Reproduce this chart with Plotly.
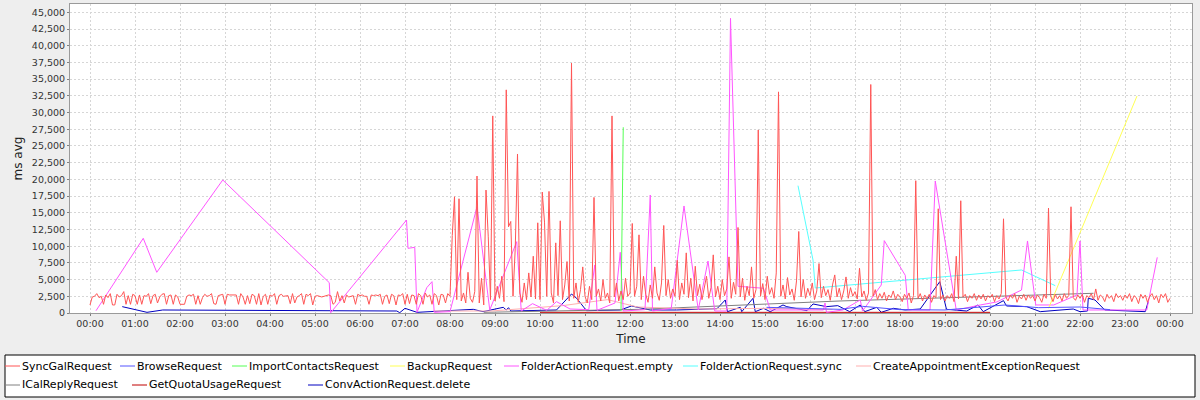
import pandas as pd
import plotly.graph_objects as go

DAY = "2024-01-01"

# ---------------- data ----------------
series_names = [
    "SyncGalRequest", "BrowseRequest", "ImportContactsRequest", "BackupRequest",
    "FolderActionRequest.empty", "FolderActionRequest.sync",
    "CreateAppointmentExceptionRequest", "ICalReplyRequest",
    "GetQuotaUsageRequest", "ConvActionRequest.delete",
]
series_colors = [
    "#FF5555", "#5555FF", "#55FF55", "#FFFF55", "#FF55FF", "#55FFFF",
    "#FFAFAF", "#808080", "#C00000", "#0000C0",
]

# SyncGalRequest: one value every 3 minutes, 00:00 .. 24:00 (20 values per hour)
sync_gal_ms = [
    # 00
    1200, 2400, 2500, 2900, 2300, 2500, 1300, 2700, 2300, 2900, 1200, 1200, 2800, 2400, 2600, 3200, 1300, 2600, 1300, 2800,
    # 01
    2600, 1300, 2700, 1300, 2600, 2500, 2900, 1400, 2600, 2800, 1500, 2400, 2800, 2900, 1300, 2600, 2700, 1300, 2700, 2400,
    # 02
    1300, 1300, 1300, 2500, 2700, 2600, 2800, 1300, 2600, 1300, 2300, 2800, 2500, 2600, 2900, 1400, 1300, 2600, 2700, 2800,
    # 03
    1300, 2800, 2700, 2700, 2800, 2700, 1300, 2900, 2400, 1300, 2600, 1400, 2800, 2600, 1300, 2900, 1200, 2500, 2800, 1300,
    # 04
    2700, 2500, 2900, 1300, 2600, 2800, 2500, 2500, 2600, 1400, 2900, 1500, 2400, 2600, 2900, 1300, 2800, 2600, 2900, 1200,
    # 05
    2500, 2600, 2500, 2400, 2500, 2600, 2700, 2600, 1300, 1600, 3200, 1800, 2600, 1500, 2700, 2400, 2500, 2600, 1300, 2800,
    # 06
    2600, 2700, 2500, 2500, 1300, 2700, 2600, 2700, 2600, 2800, 1300, 2500, 2700, 1400, 2800, 2600, 1200, 2700, 2600, 2900,
    # 07
    1300, 2800, 1400, 2700, 2600, 1300, 2900, 2600, 1300, 3000, 2400, 2700, 1300, 2900, 2600, 1200, 2800, 2700, 1500, 2900,
    # 08
    2500, 11600, 17400, 2000, 17100, 1800, 3000, 1500, 6100, 2200, 1600, 3200, 20500, 1500, 5200, 1200, 18400, 11400, 2000, 29500,
    # 09
    1800, 4000, 2200, 5500, 1700, 33400, 12900, 13700, 2500, 9700, 23800, 3000, 1600, 4500, 2000, 6000, 2400, 8500, 2100, 13500,
    # 10
    2000, 18100, 13600, 2500, 18200, 3000, 1500, 10500, 2600, 13800, 2000, 4200, 7700, 1800, 37400, 2200, 4500, 1600, 3500, 6900,
    # 11
    2500, 1500, 4000, 2000, 17300, 2500, 3600, 1800, 5000, 2200, 3000, 1500, 29500, 2400, 4500, 1800, 3300, 2000, 5200, 2500,
    # 12
    3000, 13400, 2500, 4000, 11700, 2000, 5500, 2800, 1600, 4200, 2200, 6900, 3000, 1900, 4500, 13100, 2600, 5000, 2200, 3600,
    # 13
    2500, 7900, 2000, 4500, 2800, 9000, 2300, 5200, 1800, 7000, 2600, 4300, 2000, 3500, 5500, 2200, 3800, 8700, 2400, 4000,
    # 14
    2000, 5000, 2600, 3600, 8400, 2200, 4600, 2800, 12800, 2400, 5200, 1900, 4000, 2600, 6900, 2200, 3500, 27400, 2500, 4400,
    # 15
    2000, 5500, 2800, 3800, 2200, 6000, 33100, 2500, 4200, 2100, 5300, 2700, 3600, 1900, 4800, 12200, 2400, 5000, 2200, 3700,
    # 16
    2600, 4500, 2000, 3300, 7400, 2300, 4000, 2600, 3500, 1900, 4200, 5700, 2400, 3700, 2000, 3300, 5400, 2200, 3800, 2500,
    # 17
    3200, 2100, 6700, 2400, 3300, 1900, 3000, 34200, 2500, 3500, 2000, 2900, 2200, 3100, 1800, 2700, 2300, 3300, 2000, 2800,
    # 18
    2400, 1700, 2800, 2200, 3000, 1500, 2600, 19800, 2200, 2900, 1800, 2700, 2100, 2800, 1600, 2600, 2300, 15600, 2000, 2700,
    # 19
    1800, 2600, 2200, 2900, 1700, 8500, 2100, 16800, 2400, 2800, 1700, 2600, 2200, 2900, 1900, 2700, 2100, 2800, 1800, 2600,
    # 20
    2300, 2800, 1700, 2600, 2100, 2900, 14100, 2400, 1800, 2700, 2200, 2900, 1600, 2500, 2100, 2800, 1900, 2700, 2200, 2600,
    # 21
    1800, 2700, 2300, 1600, 2800, 2200, 15700, 2500, 1700, 2800, 2100, 2600, 1800, 2900, 2200, 2600, 15900, 2300, 1900, 2700,
    # 22
    2200, 2800, 1600, 2600, 2300, 2900, 2000, 3600, 1900, 2700, 2400, 1700, 2800, 2200, 2600, 1700, 2900, 2300, 2600, 1900,
    # 23
    2700, 2200, 2900, 1700, 2600, 2300, 1400, 2800, 2200, 2700, 1600, 2500, 2900, 2000, 2600, 1500, 2800, 2300, 2900, 1600,
    # 24:00
    2200,
]

browse_times = ["15:02", "16:40", "17:10", "18:00", "19:00", "20:20", "21:05", "22:00", "22:40"]
browse_ms = [850, 550, 1000, 500, 450, 1200, 800, 900, 500]

import_times = ["11:48", "11:51"]
import_ms = [300, 27800]

backup_times = ["21:18", "23:16"]
backup_ms = [700, 32480]

fa_empty_times = [
    "00:08", "01:11", "01:29", "02:57", "05:19", "05:21", "07:02", "07:04", "07:13", "07:16",
    "07:29", "07:36", "07:39", "08:00", "08:36", "08:53", "09:29", "09:35", "09:50", "10:09",
    "10:22", "10:40", "11:05", "11:13", "11:16", "11:40", "11:47", "11:51", "12:20", "12:27",
    "12:30", "12:55", "13:12", "13:31", "13:44", "13:53", "14:09", "14:14", "14:24", "14:58",
    "15:07", "16:18", "16:20", "16:22", "16:44", "17:07", "17:10", "17:35", "17:39", "18:07",
    "18:11", "18:40", "18:47", "19:15", "19:47", "20:09", "20:42", "20:50", "21:01", "21:25",
    "21:56", "22:00", "22:04", "23:29", "23:43",
]
fa_empty_ms = [
    340, 11180, 6090, 19910, 4540, 50, 13920, 9680, 9830, 100,
    3790, 4690, 100, 200, 15910, 450, 10680, 300, 1400, 400,
    1700, 600, 500, 7190, 400, 1500, 9090, 300, 500, 17660,
    300, 700, 16020, 450, 7780, 300, 300, 44100, 4000, 3700,
    450, 450, 1500, 100, 450, 1950, 300, 4190, 10830, 5640,
    450, 450, 19760, 450, 1200, 1650, 3440, 10780, 1200, 1200,
    2700, 10780, 450, 450, 8330,
]

fa_sync_times = ["15:44", "16:04", "16:07", "20:42", "21:27"]
fa_sync_ms = [19060, 7930, 3740, 6440, 4090]

create_appt_times = ["07:38", "08:55", "10:30", "11:30", "12:10", "13:30", "15:00", "16:30"]
create_appt_ms = [300, 300, 1100, 2000, 900, 600, 700, 500]

ical_times = ["08:45", "12:13", "16:40", "21:06", "22:18"]
ical_ms = [100, 550, 1800, 2700, 2950]

quota_times = ["10:00", "15:00", "20:00"]
quota_ms = [100, 150, 100]

conv_delete_times = [
    "00:43", "01:16", "01:37", "06:49", "06:53", "07:00", "07:16", "07:47", "08:31", "08:44",
    "09:11", "09:15", "09:18", "09:21", "10:22", "10:42", "10:49", "11:02", "11:47", "12:02",
    "12:13", "12:27", "13:02", "13:56", "14:07", "14:10", "14:27", "14:29", "14:44", "14:47",
    "14:58", "15:07", "15:24", "15:29", "15:56", "16:04", "16:22", "16:37", "16:53", "17:07",
    "17:13", "17:29", "17:35", "17:51", "18:07", "18:27", "18:53", "19:02", "19:29", "19:44",
    "19:51", "20:18", "20:22", "20:49", "21:07", "21:16", "21:51", "22:00", "22:10", "22:11",
    "22:20", "22:33", "23:27", "23:31",
]
conv_delete_ms = [
    950, 100, 450, 300, 50, 700, 100, 300, 550, 200,
    850, 450, 800, 300, 450, 2840, 2190, 350, 450, 1050,
    800, 450, 450, 650, 1950, 200, 850, 200, 2200, 200,
    700, 200, 1200, 950, 350, 1350, 950, 1100, 200, 1200,
    200, 850, 100, 700, 450, 600, 4690, 550, 300, 1200,
    200, 1850, 1050, 950, 200, 300, 600, 200, 300, 2200,
    1950, 450, 200, 1700,
]

y_ticks_step = 2500

# ---------------- figure ----------------
def to_ts(hhmm_list):
    return [pd.Timestamp(f"{DAY} {t}") for t in hhmm_list]

sync_times = pd.date_range(f"{DAY} 00:00", periods=len(sync_gal_ms), freq="3min")

series_x = [
    sync_times, to_ts(browse_times), to_ts(import_times), to_ts(backup_times),
    to_ts(fa_empty_times), to_ts(fa_sync_times), to_ts(create_appt_times),
    to_ts(ical_times), to_ts(quota_times), to_ts(conv_delete_times),
]
series_y = [
    sync_gal_ms, browse_ms, import_ms, backup_ms, fa_empty_ms, fa_sync_ms,
    create_appt_ms, ical_ms, quota_ms, conv_delete_ms,
]

fig = go.Figure()
# draw last series first so the first series ends on top
for i in reversed(range(len(series_names))):
    fig.add_trace(go.Scatter(
        x=series_x[i], y=series_y[i], mode="lines", name=series_names[i],
        line=dict(color=series_colors[i], width=1), showlegend=False,
        hoverinfo="skip",
    ))

FONT = "DejaVu Sans"
L, R, T, B = 70, 8, 4, 87
W, H = 1200, 400
PW, PH = W - L - R, H - T - B

def px_to_paper_x(px):
    return (px - L) / PW

def px_to_paper_y(py):
    return (H - B - py) / PH

fig.update_layout(
    width=W, height=H,
    margin=dict(l=L, r=R, t=T, b=B, autoexpand=False),
    paper_bgcolor="#EEEEEE", plot_bgcolor="#FFFFFF",
    font=dict(family=FONT, size=10, color="#333333"),
    showlegend=False,
)
fig.update_xaxes(
    type="date", automargin=False,
    range=["2023-12-31 23:33:20", "2024-01-02 00:29:20"],
    tick0=f"{DAY} 00:00", dtick=3600000, tickformat="%H:%M",
    ticks="outside", ticklen=2, tickcolor="#808080",
    tickfont=dict(family=FONT, size=9.5, color="#333333"),
    showline=True, linecolor="#9a9a9a", linewidth=1, mirror=True,
    showgrid=True, gridcolor="#d6d6d6", gridwidth=1, griddash="2px,2px",
    zeroline=False,
    title=dict(text="Time", font=dict(family=FONT, size=12, color="#222222"), standoff=6),
)
fig.update_yaxes(
    automargin=False,
    range=[0, 46250], dtick=y_ticks_step, tick0=0, tickformat=",d",
    ticks="outside", ticklen=2, tickcolor="#808080",
    tickfont=dict(family=FONT, size=9.5, color="#333333"),
    showline=True, linecolor="#9a9a9a", linewidth=1, mirror=True,
    showgrid=True, gridcolor="#d6d6d6", gridwidth=1, griddash="2px,2px",
    zeroline=False,
    title=dict(text="ms avg", font=dict(family=FONT, size=12, color="#222222"), standoff=6),
)

# ---- legend box (drawn below the plot, like the original) ----
legend_row_y = [366, 385]
legend_layout = [  # (row, line start px) per series, in series order
    (0, 5), (0, 120), (0, 232), (0, 390), (0, 504), (0, 683), (0, 856),
    (1, 5), (1, 132), (1, 308),
]
shapes = [dict(
    type="rect", xref="paper", yref="paper",
    x0=px_to_paper_x(5), x1=px_to_paper_x(1195),
    y0=px_to_paper_y(355), y1=px_to_paper_y(397),
    line=dict(color="#000000", width=1), fillcolor="#FFFFFF", layer="below",
)]
annotations = []
for i, (row, x0) in enumerate(legend_layout):
    yy = px_to_paper_y(legend_row_y[row])
    shapes.append(dict(
        type="line", xref="paper", yref="paper",
        x0=px_to_paper_x(x0), x1=px_to_paper_x(x0 + 15), y0=yy, y1=yy,
        line=dict(color=series_colors[i], width=1),
    ))
    annotations.append(dict(
        xref="paper", yref="paper", x=px_to_paper_x(x0 + 16), y=yy,
        text=series_names[i], showarrow=False, xanchor="left", yanchor="middle",
        font=dict(family=FONT, size=11, color="#000000"), borderpad=0,
    ))
fig.update_layout(shapes=shapes, annotations=annotations)

fig.write_html(
    "out.html",
    config={"displayModeBar": False, "staticPlot": True},
    post_script="document.body.style.margin='0px';document.body.style.background='#EEEEEE';",
)
